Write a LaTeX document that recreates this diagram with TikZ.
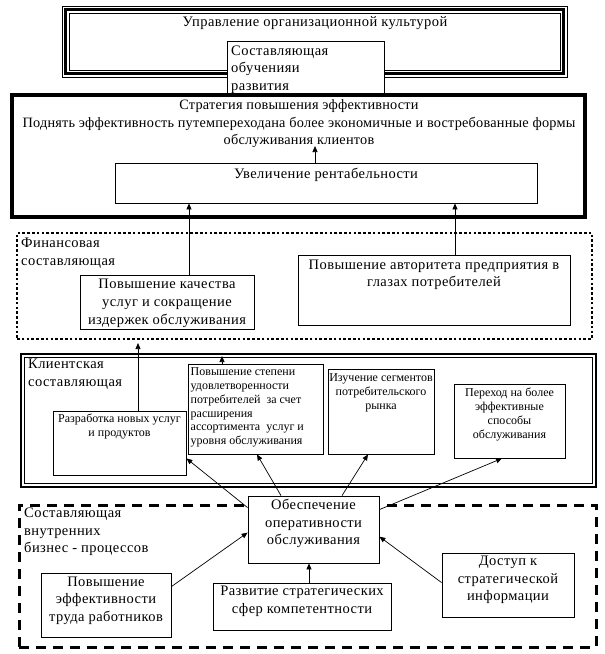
\documentclass[tikz,border=0pt]{standalone}
\usepackage{fontspec}
\setmainfont{Liberation Serif}
\newfontfamily\mainsp{Liberation Serif}[LetterSpace=3]
\newfontfamily\mainspb{Liberation Serif}[LetterSpace=1.5]
\usetikzlibrary{arrows.meta,fit}
\begin{document}
\begin{tikzpicture}[x=1pt,y=-1pt,
  box/.style={draw,line width=0.8pt,inner sep=0pt},
  big/.style={font=\mainsp\fontsize{14.5}{17.5}\selectfont,align=center,inner sep=0pt},
  bigl/.style={font=\mainsp\fontsize{14.5}{17.5}\selectfont,align=left,inner sep=0pt,anchor=west},
  small/.style={font=\fontsize{12}{14}\selectfont,align=center,inner sep=0pt},
  smalll/.style={font=\fontsize{12}{13.8}\selectfont,align=left,inner sep=0pt,anchor=west},
  arr/.style={-{Triangle[length=6pt,width=5pt]},line width=0.7pt}]
\useasboundingbox (0,0) rectangle (605,654);

% top frame: management of organisational culture
\node[fit={(62,6)(567,77)},inner sep=0pt,draw,line width=1pt] (mgmt) {};
\draw[line width=3pt] (65.5,9.5) rectangle (563.5,73.5);
\draw[line width=1pt] (69,13) rectangle (560,70);
\node[big] (mgmtt) at (315,23) {Управление организационной культурой};

% learning box
\node[box,fill=white,fit={(227,41)(384,93)}] (obuch) {};
\node[bigl] (obucht) at (231,69.5) {Составляющая\\обученияи\\развития};

% strategy box
\node[draw,line width=4pt,inner sep=0pt,fit={(12,95)(585,217)}] (strat) {};
\node[big,font=\mainspb\fontsize{14.3}{17.5}\selectfont] (stratt) at (299,124) {Стратегия повышения эффективности\\Поднять эффективность путемпереходана более экономичные и востребованные формы\\обслуживания клиентов};
\coordinate (stratin) at (315,146);

\node[box,fit={(115,163)(537,203)}] (uv) {};
\node[big] (uvt) at (326,175) {Увеличение рентабельности};
\draw[arr] (uv.north -| stratin) -- (stratin);

% financial
\node[draw,line width=2.6pt,dash pattern=on 2.6pt off 2.2pt,inner sep=0pt,fit={(17,233)(592,339)}] (fin) {};
\node[bigl] (fint) at (21,253.5) {Финансовая\\составляющая};

\node[box,fit={(80,275)(254,329)}] (kach) {};
\node[big,font=\mainsp\fontsize{14.5}{18.3}\selectfont] (kacht) at (167,303.5) {Повышение качества\\услуг и сокращение\\издержек обслуживания};

\node[box,fit={(298,255)(570,325)}] (avt) {};
\node[big] (avtt) at (434,275) {Повышение авторитета предприятия в\\глазах потребителей};

\draw[arr] ([xshift=22pt]kach.north) -- ([xshift=22pt]kach.north |- uv.south);
\draw[arr] ([xshift=21pt]avt.north) -- ([xshift=21pt]avt.north |- uv.south);

% client
\node[draw,line width=1.8pt,inner sep=0pt,fit={(21,354)(596,487)}] (cli) {};
\draw[line width=0.8pt] (24.5,357.5) rectangle (592.5,483.5);
\node[bigl] (clit) at (28,374.5) {Клиентская\\составляющая};

\node[box,fit={(53,411)(186,475)}] (raz) {};
\node[small] (razt) at (119.5,426.5) {Разработка новых услуг\\и продуктов};

\node[box,fit={(188,364)(323,454)}] (stp) {};
\node[smalll] (stpt) at (190.5,407.5) {Повышение степени\\удовлетворенности\\потребителей~ за счет\\расширения\\ассортимента~ услуг и\\уровня обслуживания};

\node[box,fit={(328,369)(434,454)}] (izu) {};
\node[small] (izut) at (381,392.5) {Изучение сегментов\\потребительского\\рынка};

\node[box,fit={(454,384)(565,458)}] (per) {};
\node[small] (pert) at (509.5,414) {Переход на более\\эффективные\\способы\\обслуживания};

\coordinate (finin) at (138,343);
\coordinate (cliin) at (222,356);
\draw[arr] (raz.north -| finin) -- (finin);
\draw[arr] (stp.north -| cliin) -- (cliin);

% internal processes
\node[draw,line width=3pt,dash pattern=on 10pt off 7pt,inner sep=0pt,fit={(19,505)(596,647)}] (int) {};
\node[bigl] (intt) at (24,532) {Составляющая\\внутренних\\бизнес - процессов};

\node[box,fill=white,fit={(248,496)(379,563)}] (obes) {};
\node[big] (obest) at (313.5,523.5) {Обеспечение\\оперативности\\обслуживания};

\draw[arr] ([yshift=-12pt]obes.north west) -- ([yshift=17pt]raz.south east);
\draw[arr] ([xshift=-32.5pt]obes.north) -- ([xshift=1.5pt]stp.south);
\draw[arr] ([xshift=28.5pt]obes.north) -- ([xshift=-13pt]izu.south);
\draw[arr] ([yshift=-14pt]obes.north east) -- ([xshift=-7.5pt]per.south);

\node[box,fit={(41,573)(171,637)}] (pe) {};
\node[big] (pet) at (106,600.5) {Повышение\\эффективности\\труда работников};

\node[box,fit={(213,583)(391,630)}] (razv) {};
\node[big] (razvt) at (302,601.5) {Развитие стратегических\\сфер компетентности};

\node[box,fit={(442,553)(574,617)}] (dost) {};
\node[big] (dostt) at (508,580) {Доступ к\\стратегической\\информации};

\draw[arr] ([yshift=-14pt]pe.north east) -- ([yshift=-37pt]obes.north west);
\draw[arr] ([xshift=7pt]razv.north) -- ([xshift=7pt]razv.north |- obes.south);
\draw[arr] ([yshift=-30pt]dost.north west) -- ([yshift=-41pt]obes.north east);
\end{tikzpicture}
\end{document}
